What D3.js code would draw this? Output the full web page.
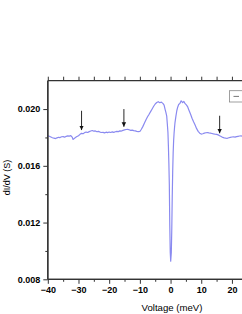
<!DOCTYPE html>
<html><head><meta charset="utf-8">
<script src="https://cdn.jsdelivr.net/npm/d3@7"></script>
<style>body{margin:0;background:#fff}svg{display:block}</style>
</head><body>
<script>
// ---- data ----
const voltage = [-40,-39.5,-39,-38.5,-38,-37.5,-37,-36.5,-36,-35.5,-35,-34.5,-34,-33.5,-33,-32.5,-32,-31.8,-31.5,-31,-30.5,-30,-29.5,-29,-28.5,-28,-27.5,-27,-26.5,-26,-25.5,-25,-24.5,-24,-23.5,-23,-22.5,-22,-21.5,-21,-20.5,-20,-19.5,-19,-18.5,-18,-17.5,-17,-16.5,-16,-15.5,-15,-14.5,-14,-13.5,-13,-12.5,-12,-11.5,-11,-10.5,-10,-9.5,-9,-8.5,-8,-7.5,-7,-6.5,-6,-5.5,-5,-4.5,-4,-3.5,-3,-2.5,-2.1,-1.8,-1.5,-1.25,-1.05,-0.85,-0.7,-0.55,-0.4,-0.25,-0.1,0.05,0.25,0.4,0.55,0.7,0.85,1.0,1.15,1.3,1.45,1.75,2.05,2.35,2.65,3.05,3.45,3.95,4.35,4.75,5.15,5.6,6,6.5,7,7.5,8,8.5,9,9.5,10,10.5,11,11.5,12,12.5,13,13.5,14,14.5,15,15.5,16,16.5,17,17.5,18,18.5,19,19.5,20,20.5,21,21.5,22,22.5,23,23.5,24];
const conductance = [0.01812,0.01808,0.01803,0.01798,0.01795,0.01792,0.01797,0.01801,0.01799,0.01805,0.01806,0.01802,0.01808,0.01811,0.01809,0.01813,0.01800,0.01786,0.01790,0.01799,0.01806,0.01812,0.01822,0.01829,0.01826,0.01834,0.01838,0.01835,0.01841,0.01845,0.01849,0.01844,0.01846,0.01840,0.01843,0.01838,0.01835,0.01836,0.01832,0.01837,0.01834,0.01838,0.01835,0.01839,0.01836,0.01840,0.01843,0.01841,0.01846,0.01845,0.01850,0.01853,0.01856,0.01857,0.01854,0.01850,0.01852,0.01848,0.01846,0.01843,0.01841,0.01842,0.01858,0.01878,0.01901,0.01925,0.01946,0.01963,0.01982,0.02001,0.02020,0.02036,0.02046,0.02052,0.02045,0.02049,0.02040,0.02028,0.02000,0.01975,0.01950,0.01895,0.01835,0.01740,0.01620,0.01470,0.01180,0.00990,0.00928,0.00990,0.01150,0.01380,0.01560,0.01690,0.01775,0.01830,0.01870,0.01905,0.01950,0.01990,0.02015,0.02032,0.02040,0.02058,0.02045,0.02054,0.02038,0.02030,0.02015,0.01992,0.01965,0.01935,0.01910,0.01887,0.01862,0.01843,0.01830,0.01824,0.01826,0.01830,0.01833,0.01835,0.01832,0.01830,0.01828,0.01825,0.01823,0.01822,0.01818,0.01812,0.01806,0.01800,0.01797,0.01795,0.01794,0.01798,0.01801,0.01803,0.01805,0.01802,0.01806,0.01808,0.01810,0.01811,0.01809,0.01810];
const xTicks = [-40,-30,-20,-10,0,10,20];
const xMinor = [-35,-25,-15,-5,5,15];
const yTicks = [0.008,0.012,0.016,0.020];
const yMinor = [0.010,0.014,0.018];
const arrowV = [-29, -15.2, 16];
const arrowFrom = [0.01988, 0.02000, 0.01953];
const arrowTo = [0.01852, 0.01875, 0.01829];

const W = 242, H = 314;
const svg = d3.select("body").append("svg").attr("width", W).attr("height", H);
const x = d3.scaleLinear().domain([-40, 40]).range([47.8, 293.3]);
const y = d3.scaleLinear().domain([0.008, 0.022]).range([279.3, 80.7]);
const font = "'Liberation Sans', Arial, sans-serif";
const axisColor = "#333";

svg.append("defs").append("marker").attr("id", "ah").attr("viewBox", "0 0 10 10")
  .attr("refX", 10).attr("refY", 5).attr("markerWidth", 4.5).attr("markerHeight", 6)
  .attr("orient", "auto").attr("markerUnits", "userSpaceOnUse")
  .append("path").attr("d", "M0,0 L10,5 L0,10 Z").attr("fill", "#111");

svg.append("clipPath").attr("id", "c").append("rect")
  .attr("x", x(-40)).attr("y", y(0.022)).attr("width", x(40) - x(-40)).attr("height", y(0.008) - y(0.022));
const pts = voltage.map((v, i) => [v, conductance[i]]);
svg.append("path").datum(pts).attr("clip-path", "url(#c)")
  .attr("d", d3.line().x(d => x(d[0])).y(d => y(d[1])))
  .attr("fill", "none").attr("stroke", "#8a8af0").attr("stroke-width", 1.2).attr("stroke-linejoin", "round");

arrowV.forEach((v, i) => {
  svg.append("line").attr("x1", x(v)).attr("x2", x(v)).attr("y1", y(arrowFrom[i])).attr("y2", y(arrowTo[i]))
    .attr("stroke", "#111").attr("stroke-width", 0.9).attr("marker-end", "url(#ah)");
});

const gBottom = svg.append("g").attr("transform", `translate(0,${y(0.008)})`)
  .call(d3.axisBottom(x).tickValues(xTicks).tickSize(4.5).tickPadding(2.5).tickFormat(d3.format("d")));
const gBottomMinor = svg.append("g").attr("transform", `translate(0,${y(0.008)})`)
  .call(d3.axisBottom(x).tickValues(xMinor).tickSize(2.5).tickFormat(""));
const gTop = svg.append("g").attr("transform", `translate(0,${y(0.022)})`)
  .call(d3.axisBottom(x).tickValues(xTicks.concat(xMinor)).tickSize(-4).tickFormat(""));
const gLeft = svg.append("g").attr("transform", `translate(${x(-40)},0)`)
  .call(d3.axisLeft(y).tickValues(yTicks).tickSize(4.5).tickPadding(3).tickFormat(d3.format(".3f")));
const gLeftMinor = svg.append("g").attr("transform", `translate(${x(-40)},0)`)
  .call(d3.axisLeft(y).tickValues(yMinor).tickSize(2.5).tickFormat(""));
[gBottom, gBottomMinor, gTop, gLeft, gLeftMinor].forEach(g => {
  g.select(".domain").attr("stroke", axisColor).attr("stroke-width", 1.3);
  g.selectAll(".tick line").attr("stroke", axisColor).attr("stroke-width", 1);
  g.selectAll("text").attr("fill", "#000").style("font-family", font).style("font-size", "9px").style("font-weight", "bold");
});
[gTop, gBottom, gBottomMinor].forEach(g => g.select(".domain").attr("d", `M${x(-40)},0H${x(40)}`));
[gLeft, gLeftMinor].forEach(g => g.select(".domain").attr("d", `M0,${y(0.008)}V${y(0.022)}`));

svg.append("rect").attr("x", 229.5).attr("y", 90.7).attr("width", 60).attr("height", 11.3)
  .attr("fill", "#fff").attr("stroke", "#888").attr("stroke-width", 0.8);
svg.append("line").attr("x1", 233.5).attr("x2", 239).attr("y1", 96.4).attr("y2", 96.4)
  .attr("stroke", "#777").attr("stroke-width", 1);

svg.append("text").attr("x", 172).attr("y", 310.5).attr("text-anchor", "middle")
  .style("font-family", font).style("font-size", "9.6px").text("Voltage (meV)");
svg.append("text").attr("transform", "translate(9.5,177.5) rotate(-90)").attr("text-anchor", "middle")
  .style("font-family", font).style("font-size", "9px").text("dI/dV (S)");
</script>
</body></html>
